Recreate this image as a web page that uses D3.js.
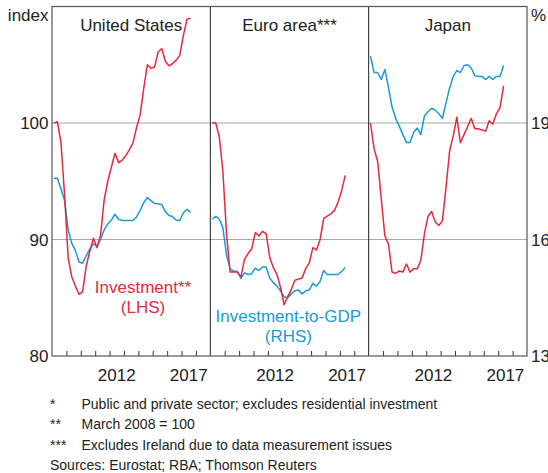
<!DOCTYPE html>
<html>
<head>
<meta charset="utf-8">
<script src="https://cdn.jsdelivr.net/npm/d3@7"></script>
<style>
  html, body { margin: 0; padding: 0; background: #fff; }
  svg { display: block; }
  text { font-family: "Liberation Sans", Arial, sans-serif; fill: #222; }
</style>
</head>
<body>
<svg id="chart" width="548" height="473"></svg>
<script>
// ---------------- data ----------------
const panelNames = ["United States", "Euro area***", "Japan"];
const firstYear = 2008;          // first observation: March quarter 2008
const lastYear = 2019;           // end of each panel's time axis
const leftTicks = [80, 90, 100];
const rightTicks = [13, 16, 19];
const yearLabels = [2012, 2017];
const leftDomain = [80, 110];
const rightDomain = [13, 22];

// Investment index (LHS), quarterly from Q1 2008
const usInvestment = [100, 100.1, 98.3, 93.8, 88.4, 86.8, 86.0, 85.3, 85.5, 87.7,
  89.0, 90.1, 89.3, 90.4, 93.4, 95.0, 96.2, 97.4, 96.6, 96.8,
  97.2, 97.7, 98.3, 99.6, 100.7, 103.0, 105.0, 104.7, 104.8, 106.1,
  106.4, 105.3, 104.9, 105.1, 105.4, 105.8, 107.5, 108.9, 109.0];
const euroInvestment = [100, 100, 98.8, 95.8, 90.5, 87.2, 87.2, 87.2, 86.8, 88.3,
  88.8, 89.2, 90.6, 90.3, 90.7, 90.5, 88.5, 87.6, 87.0, 85.9,
  84.4, 85.1, 85.7, 86.5, 86.6, 86.7, 87.5, 88.0, 89.3, 89.1,
  90.0, 91.8, 92.0, 92.2, 92.5, 93.2, 94.2, 95.5];
const japanInvestment = [100, 97.8, 96.7, 93.5, 90.3, 89.6, 87.2, 87.1, 87.3, 87.2,
  87.9, 87.2, 87.5, 87.5, 88.2, 90.5, 92.0, 92.4, 91.5, 91.2,
  91.6, 94.5, 97.6, 98.9, 100.5, 98.3, 99.0, 99.7, 100.4, 99.5,
  99.5, 99.4, 99.3, 100.2, 99.9, 100.8, 101.3, 103.2];

// Investment-to-GDP ratio, per cent (RHS)
const usRatio = [17.58, 17.58, 17.3, 17.0, 16.25, 15.9, 15.72, 15.42, 15.39, 15.58,
  15.75, 15.89, 15.82, 16.0, 16.25, 16.4, 16.5, 16.65, 16.52, 16.49,
  16.49, 16.49, 16.49, 16.58, 16.75, 16.95, 17.08, 17.0, 16.93, 16.92,
  16.9, 16.72, 16.62, 16.59, 16.5, 16.49, 16.68, 16.78, 16.7];
const euroRatio = [16.52, 16.6, 16.52, 16.3, 15.6, 15.25, 15.18, 15.18, 15.0, 15.14,
  15.1, 15.12, 15.26, 15.2, 15.29, 15.29, 15.0, 14.89, 14.8, 14.68,
  14.52, 14.5, 14.6, 14.68, 14.7, 14.6, 14.68, 14.7, 14.87, 14.8,
  14.92, 15.2, 15.1, 15.1, 15.1, 15.1, 15.18, 15.28];
const japanRatio = [20.72, 20.3, 20.3, 20.12, 20.38, 19.92, 19.41, 19.12, 18.92, 18.7,
  18.5, 18.5, 18.76, 18.87, 18.7, 19.18, 19.29, 19.38, 19.33, 19.24,
  19.12, 19.52, 19.9, 20.2, 20.35, 20.3, 20.48, 20.5, 20.42, 20.22,
  20.2, 20.2, 20.12, 20.2, 20.12, 20.2, 20.2, 20.48];

const footnoteMarks = ["*", "**", "***"];
const footnoteTexts = [
  "Public and private sector; excludes residential investment",
  "March 2008 = 100",
  "Excludes Ireland due to data measurement issues"
];
const sourceText = "Sources: Eurostat; RBA; Thomson Reuters";

// ---------------- build ----------------
const investmentSeries = [usInvestment, euroInvestment, japanInvestment];
const ratioSeries = [usRatio, euroRatio, japanRatio];

const RED = "#e8283c";
const BLUE = "#1b9ad8";

const plot = { left: 52, right: 527, top: 6.5, bottom: 356 };
const svg = d3.select("#chart");

const panelScale = d3.scaleBand().domain(panelNames).range([plot.left, plot.right]).padding(0);
const bw = panelScale.bandwidth();
const xIn = d3.scaleLinear().domain([firstYear, lastYear]).range([0, bw]);
const yL = d3.scaleLinear().domain(leftDomain).range([plot.bottom, plot.top]);
const yR = d3.scaleLinear().domain(rightDomain).range([plot.bottom, plot.top]);

const qDate = i => firstYear + i * 0.25 + 0.125;

// gridlines
svg.append("g").selectAll("line").data([90, 100]).join("line")
  .attr("x1", plot.left).attr("x2", plot.right)
  .attr("y1", d => yL(d)).attr("y2", d => yL(d))
  .attr("stroke", "#a8a8a8").attr("stroke-width", 1);

// panels
panelNames.forEach((name, p) => {
  const x0 = panelScale(name);
  const g = svg.append("g").attr("transform", `translate(${x0},0)`);

  // bottom ticks (inward)
  const axis = d3.axisBottom(xIn)
    .tickValues(d3.range(firstYear + 1, lastYear))
    .tickSizeInner(-5).tickSizeOuter(0).tickFormat("");
  const ag = g.append("g").attr("transform", `translate(0,${plot.bottom})`).call(axis);
  ag.select(".domain").remove();
  ag.selectAll(".tick line").attr("stroke", "#333").attr("stroke-width", 1);

  // year labels centred in each year
  g.selectAll("text.yr").data(yearLabels).join("text").attr("class", "yr")
    .attr("x", d => xIn(d + 0.5)).attr("y", 380.5)
    .attr("text-anchor", "middle").attr("font-size", "17px").text(d => d);

  // title
  g.append("text").attr("x", bw / 2).attr("y", 31)
    .attr("text-anchor", "middle").attr("font-size", "17px").text(name);

  const lineL = d3.line().x((d, i) => xIn(qDate(i))).y(d => yL(d));
  const lineR = d3.line().x((d, i) => xIn(qDate(i))).y(d => yR(d));

  g.append("path").datum(ratioSeries[p]).attr("d", lineR)
    .attr("fill", "none").attr("stroke", BLUE).attr("stroke-width", 1.5)
    .attr("stroke-linejoin", "round");
  g.append("path").datum(investmentSeries[p]).attr("d", lineL)
    .attr("fill", "none").attr("stroke", RED).attr("stroke-width", 1.5)
    .attr("stroke-linejoin", "round");
});

// panel dividers
svg.append("g").selectAll("line").data(panelNames.slice(1)).join("line")
  .attr("x1", d => panelScale(d)).attr("x2", d => panelScale(d))
  .attr("y1", plot.top).attr("y2", plot.bottom)
  .attr("stroke", "#222").attr("stroke-width", 1);

// frame
svg.append("rect").attr("x", plot.left).attr("y", plot.top)
  .attr("width", plot.right - plot.left).attr("height", plot.bottom - plot.top)
  .attr("fill", "none").attr("stroke", "#555").attr("stroke-width", 1.2);

// left axis labels
svg.append("g").selectAll("text").data(leftTicks).join("text")
  .attr("x", 48.5).attr("y", d => yL(d)).attr("dy", "0.36em")
  .attr("text-anchor", "end").attr("font-size", "17px").text(d => d);
svg.append("text").attr("x", 48.5).attr("y", 21).attr("text-anchor", "end")
  .attr("font-size", "17px").text("index");

// right axis labels
svg.append("g").selectAll("text").data(rightTicks).join("text")
  .attr("x", 531).attr("y", d => yR(d)).attr("dy", "0.36em")
  .attr("text-anchor", "start").attr("font-size", "17px").text(d => d);
svg.append("text").attr("x", 531).attr("y", 21).attr("text-anchor", "start")
  .attr("font-size", "17px").text("%");

// series labels
const usX = panelScale(panelNames[0]);
const euX = panelScale(panelNames[1]);
svg.append("text").attr("x", usX + 91).attr("y", 293).attr("text-anchor", "middle")
  .attr("font-size", "17px").style("fill", RED).text("Investment**");
svg.append("text").attr("x", usX + 91).attr("y", 313).attr("text-anchor", "middle")
  .attr("font-size", "17px").style("fill", RED).text("(LHS)");
svg.append("text").attr("x", euX + 78).attr("y", 321.5).attr("text-anchor", "middle")
  .attr("font-size", "17px").style("fill", BLUE).text("Investment-to-GDP");
svg.append("text").attr("x", euX + 78).attr("y", 341.5).attr("text-anchor", "middle")
  .attr("font-size", "17px").style("fill", BLUE).text("(RHS)");

// footnotes
const fnY = [408.5, 428.5, 450];
footnoteTexts.forEach((t, i) => {
  svg.append("text").attr("x", 50).attr("y", fnY[i]).attr("font-size", "14px").text(footnoteMarks[i]);
  svg.append("text").attr("x", 81.5).attr("y", fnY[i]).attr("font-size", "14px").text(t);
});
svg.append("text").attr("x", 50).attr("y", 470).attr("font-size", "14px").text(sourceText);
</script>
</body>
</html>
